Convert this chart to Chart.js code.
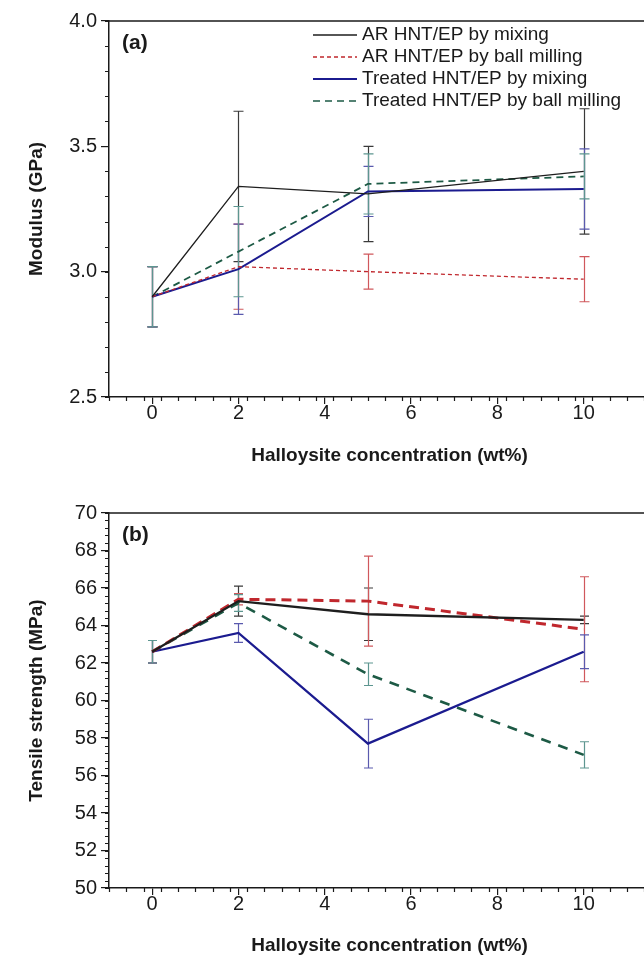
<!DOCTYPE html>
<html>
<head>
<meta charset="utf-8">
<script src="https://cdn.jsdelivr.net/npm/chart.js@4.4.1/dist/chart.umd.min.js"></script>
<style>
    html, body { margin: 0; padding: 0; background: #fff; overflow: hidden; }
    #wrapA, #wrapB { position: absolute; left: 0; width: 700px; }
    #wrapA { top: 0; height: 480px; }
    #wrapB { top: 480px; height: 479px; }
</style>
</head>
<body>
<div id="wrapA"><canvas id="modulusChart" width="700" height="480"></canvas></div>
<div id="wrapB"><canvas id="strengthChart" width="700" height="479"></canvas></div>
<script>
// data
const concentrations = [0, 2, 5, 10];
const seriesLabels = [
    "AR HNT/EP by mixing",
    "AR HNT/EP by ball milling",
    "Treated HNT/EP by mixing",
    "Treated HNT/EP by ball milling",
];
const xTicks = [0, 2, 4, 6, 8, 10];

// (a) modulus, GPa
const modArMix = [2.90, 3.34, 3.31, 3.40];
const modArMixErr = [0.12, 0.30, 0.19, 0.25];
const modArBall = [2.90, 3.02, 3.00, 2.97];
const modArBallErr = [0.12, 0.17, 0.07, 0.09];
const modTrMix = [2.90, 3.01, 3.32, 3.33];
const modTrMixErr = [0.12, 0.18, 0.10, 0.16];
const modTrBall = [2.90, 3.08, 3.35, 3.38];
const modTrBallErr = [0.12, 0.18, 0.12, 0.09];
const modTicks = [2.5, 3.0, 3.5, 4.0];

// (b) tensile strength, MPa
const tsArMix = [62.6, 65.3, 64.6, 64.3];
const tsArMixErr = [0.6, 0.8, 1.4, 0.2];
const tsArBall = [62.6, 65.4, 65.3, 63.8];
const tsArBallErr = [0.6, 0.3, 2.4, 2.8];
const tsTrMix = [62.6, 63.6, 57.7, 62.6];
const tsTrMixErr = [0.6, 0.5, 1.3, 0.9];
const tsTrBall = [62.6, 65.2, 61.4, 57.1];
const tsTrBallErr = [0.6, 0.45, 0.6, 0.7];
const tsTicks = [50, 52, 54, 56, 58, 60, 62, 64, 66, 68, 70];

const FONT = "'Liberation Sans', Arial, sans-serif";
const INK = "#1a1a1a";

// series styles: line colour, error bar colour
const styles = [
    { color: "#1e1e1e", err: "#3a3a3a" },
    { color: "#c0272d", err: "#d0585c" },
    { color: "#1b1b8f", err: "#5a5aae" },
    { color: "#1d5a45", err: "#5d9690" },
];

const toPoints = ys => ys.map((y, i) => ({ x: concentrations[i], y: y }));

function makeDatasets(values, errors, widths, dashes) {
    return values.map((v, i) => ({
        label: seriesLabels[i],
        data: toPoints(v),
        err: errors[i],
        errColor: styles[i].err,
        borderColor: styles[i].color,
        borderWidth: widths[i],
        borderDash: dashes[i],
        pointRadius: 0,
        fill: false,
        tension: 0,
    }));
}

// error bars, drawn under the lines
const errorBars = {
    id: "errorBars",
    beforeDatasetsDraw(chart, args, opts) {
        const { ctx } = chart;
        const xs = chart.scales.x, ys = chart.scales.y;
        const cap = opts.cap || 5;
        chart.data.datasets.forEach(ds => {
            ctx.save();
            ctx.strokeStyle = ds.errColor;
            ctx.lineWidth = 1.2;
            ds.data.forEach((p, j) => {
                const e = ds.err[j];
                if (!e) return;
                const px = Math.round(xs.getPixelForValue(p.x)) + 0.5;
                const top = ys.getPixelForValue(p.y + e);
                const bot = ys.getPixelForValue(p.y - e);
                ctx.beginPath();
                ctx.moveTo(px, top); ctx.lineTo(px, bot);
                ctx.moveTo(px - cap, top); ctx.lineTo(px + cap, top);
                ctx.moveTo(px - cap, bot); ctx.lineTo(px + cap, bot);
                ctx.stroke();
            });
            ctx.restore();
        });
    }
};

// frame top line, minor ticks, panel tag and legend
const frame = {
    id: "frame",
    afterDraw(chart, args, opts) {
        const { ctx, chartArea: a } = chart;
        const xs = chart.scales.x, ys = chart.scales.y;
        ctx.save();
        ctx.strokeStyle = INK;
        ctx.lineWidth = 1.5;
        ctx.beginPath();
        ctx.moveTo(a.left, a.top); ctx.lineTo(a.right, a.top);
        ctx.stroke();

        // minor ticks
        ctx.lineWidth = 1.2;
        ctx.beginPath();
        for (let v = xs.min; v <= xs.max + 1e-9; v += opts.xMinor) {
            const px = Math.round(xs.getPixelForValue(v)) + 0.5;
            ctx.moveTo(px, a.bottom); ctx.lineTo(px, a.bottom + 4);
        }
        for (let v = ys.min; v <= ys.max + 1e-9; v += opts.yMinor) {
            const py = Math.round(ys.getPixelForValue(v)) + 0.5;
            ctx.moveTo(a.left, py); ctx.lineTo(a.left - 4, py);
        }
        ctx.stroke();

        ctx.fillStyle = INK;
        ctx.font = "bold 21px " + FONT;
        ctx.textBaseline = "middle";
        ctx.fillText(opts.tag, a.left + 13, a.top + 22);

        if (opts.legend) {
            ctx.font = "19px " + FONT;
            chart.data.datasets.forEach((ds, i) => {
                const y = a.top + 14 + i * 22;
                ctx.save();
                ctx.strokeStyle = ds.borderColor;
                ctx.lineWidth = i === 2 ? 2 : 1.3;
                ctx.setLineDash(ds.borderDash);
                ctx.beginPath();
                ctx.moveTo(313, y); ctx.lineTo(357, y);
                ctx.stroke();
                ctx.restore();
                ctx.fillText(ds.label, 362, y);
            });
        }
        ctx.restore();
    }
};

function axisOptions(yMin, yMax, yTicks, yTitle, yDigits, xHeight, xTitlePad) {
    return {
        x: {
            type: "linear",
            min: -1,
            max: 12,
            afterBuildTicks: s => { s.ticks = xTicks.map(v => ({ value: v })); },
            afterFit: s => { s.height = xHeight; },
            border: { color: INK, width: 1.5 },
            grid: { drawOnChartArea: false, color: INK, tickLength: 7, lineWidth: 1.2 },
            ticks: { color: INK, font: { family: FONT, size: 20, lineHeight: 1 }, padding: -1, maxRotation: 0 },
            title: {
                display: true,
                text: "Halloysite concentration (wt%)",
                color: INK,
                font: { family: FONT, size: 19, weight: "bold" },
                padding: { top: 12, bottom: xTitlePad },
            },
        },
        y: {
            min: yMin,
            max: yMax,
            afterBuildTicks: s => { s.ticks = yTicks.map(v => ({ value: v })); },
            afterFit: s => { s.width = 109; },
            border: { color: INK, width: 1.5 },
            grid: { drawOnChartArea: false, color: INK, tickLength: 8, lineWidth: 1.2 },
            ticks: {
                color: INK,
                font: { family: FONT, size: 20 },
                padding: 4,
                callback: v => v.toFixed(yDigits),
            },
            title: {
                display: true,
                text: yTitle,
                color: INK,
                font: { family: FONT, size: 19, weight: "bold" },
                padding: { top: 25, bottom: 8 },
            },
        },
    };
}

new Chart(document.getElementById("modulusChart"), {
    type: "line",
    data: {
        datasets: makeDatasets(
            [modArMix, modArBall, modTrMix, modTrBall],
            [modArMixErr, modArBallErr, modTrMixErr, modTrBallErr],
            [1.3, 1.3, 2, 1.8],
            [[], [4, 3], [], [7, 5]]
        ),
    },
    options: {
        responsive: false,
        animation: false,
        layout: { padding: { top: 21, right: 30, left: 0, bottom: 0 } },
        scales: axisOptions(2.5, 4.0, modTicks, "Modulus (GPa)", 1, 83, 13),
        plugins: {
            legend: { display: false },
            tooltip: { enabled: false },
            errorBars: { cap: 5 },
            frame: { tag: "(a)", legend: true, xMinor: 0.4, yMinor: 0.1 },
        },
    },
    plugins: [errorBars, frame],
});

new Chart(document.getElementById("strengthChart"), {
    type: "line",
    data: {
        datasets: makeDatasets(
            [tsArMix, tsArBall, tsTrMix, tsTrBall],
            [tsArMixErr, tsArBallErr, tsTrMixErr, tsTrBallErr],
            [2.3, 3, 2.3, 2.6],
            [[], [10, 6], [], [10, 8]]
        ),
    },
    options: {
        responsive: false,
        animation: false,
        layout: { padding: { top: 33, right: 30, left: 0, bottom: 0 } },
        scales: axisOptions(50, 70, tsTicks, "Tensile strength (MPa)", 0, 71, 2),
        plugins: {
            legend: { display: false },
            tooltip: { enabled: false },
            errorBars: { cap: 4.5 },
            frame: { tag: "(b)", legend: false, xMinor: 0.4, yMinor: 0.4 },
        },
    },
    plugins: [errorBars, frame],
});
</script>
</body>
</html>
